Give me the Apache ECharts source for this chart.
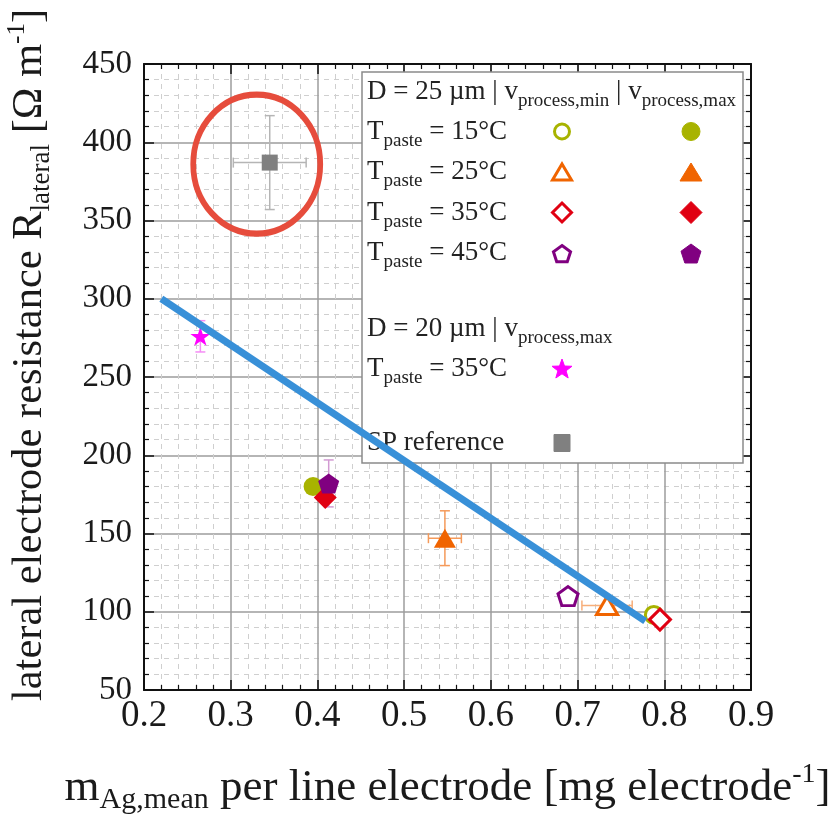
<!DOCTYPE html>
<html><head><meta charset="utf-8">
<script src="https://cdn.jsdelivr.net/npm/echarts@6/dist/echarts.min.js"></script>
<style>html,body{margin:0;padding:0;background:#fff}#c{width:833px;height:824px}</style>
</head><body><div id="c"></div>
<script>
// ---------- data ----------
const pointNames = ['T15 min','T15 max','T25 min','T25 max','T35 min','T35 max','T45 min','T45 max','D20 T35 max','SP reference'];
const xValues = [0.788, 0.395, 0.734, 0.547, 0.795, 0.409, 0.689, 0.413, 0.265, 0.345];
const yValues = [98, 180, 104, 147, 95, 173, 110, 182, 276, 387];
const xErrors = [0, 0, 0.029, 0.019, 0, 0, 0, 0, 0, 0.042];
const yErrors = [0, 0, 0, 17.5, 0, 0, 0, 15, 10, 30];
const trendX = [0.22, 0.778];
const trendY = [300, 94];
const highlightX = [0.33];
const highlightY = [386];
const xTickValues = [0.2, 0.3, 0.4, 0.5, 0.6, 0.7, 0.8, 0.9];
const yTickValues = [50, 100, 150, 200, 250, 300, 350, 400, 450];

// ---------- styles ----------
const FONT = "'Liberation Serif','Times New Roman',serif";
const TXT = '#1a1a1a';
const OLIVE = '#a8b300', ORANGE = '#f06400', RED = '#e00012', PURPLE = '#800080', MAGENTA = '#ff00ff', GRAY = '#808080';
const PENT = 'path://M50,0 L97.55,34.55 L79.39,90.45 L20.61,90.45 L2.45,34.55 Z';
const STAR = 'path://M50,0 L61.2,34.5 L97.6,34.5 L68.2,55.9 L79.4,90.5 L50,69.1 L20.6,90.5 L31.8,55.9 L2.4,34.5 L38.8,34.5 Z';
const symbols = ['circle','circle','triangle','triangle','diamond','diamond',PENT,PENT,STAR,'rect'];
const sizes = [[17,17],[19,19],[21,18],[22,19],[21,21],[23,23],[20,19],[21,20],[20,19],[16,16]];
const colors = [OLIVE,OLIVE,ORANGE,ORANGE,RED,RED,PURPLE,PURPLE,MAGENTA,GRAY];
const filled = [false,true,false,true,false,true,false,true,true,true];
const errColors = ['#d4da80','#d4da80','#f7ae7a','#f59a5a','#f08080','#f08080','#cf9acf','#d29ad2','#f58cf5','#b5b5b5'];

const X0 = xTickValues[0], X1 = xTickValues[xTickValues.length-1];
const Y0 = yTickValues[0], Y1 = yTickValues[yTickValues.length-1];

const chart = echarts.init(document.getElementById('c'), null, {renderer:'canvas'});

function axisCommon(showLabel){
  return {
    type:'value',
    axisLine:{show:true, onZero:false, lineStyle:{color:'#111', width:2}},
    axisTick:{show:true, inside:true, length:10, lineStyle:{color:'#111', width:1.5}},
    minorTick:{show:true, splitNumber:5, length:5, lineStyle:{color:'#111', width:1.2}},
    axisLabel:{show:showLabel, color:TXT, fontFamily:FONT},
  };
}

const series = [];
// error bars
series.push({
  type:'custom', z:1, silent:true,
  data: pointNames.map((n,i)=>[xValues[i], yValues[i], xErrors[i], yErrors[i], i]),
  renderItem(params, api){
    const x=api.value(0), y=api.value(1), ex=api.value(2), ey=api.value(3), i=api.value(4);
    const c = errColors[i], ch=[], cap=5, lw=1.5;
    const ln=(a,b,cc,dd)=>({type:'line', shape:{x1:a,y1:b,x2:cc,y2:dd}, style:{stroke:c, lineWidth:lw}});
    if (ey>0){
      const p1=api.coord([x,y+ey]), p2=api.coord([x,y-ey]);
      ch.push(ln(p1[0],p1[1],p2[0],p2[1]));
      ch.push(ln(p1[0]-cap,p1[1],p1[0]+cap,p1[1]));
      ch.push(ln(p2[0]-cap,p2[1],p2[0]+cap,p2[1]));
    }
    if (ex>0){
      const p1=api.coord([x-ex,y]), p2=api.coord([x+ex,y]);
      ch.push(ln(p1[0],p1[1],p2[0],p2[1]));
      ch.push(ln(p1[0],p1[1]-cap,p1[0],p1[1]+cap));
      ch.push(ln(p2[0],p2[1]-cap,p2[0],p2[1]+cap));
    }
    return {type:'group', children:ch};
  }
});
pointNames.forEach((n,i)=>{
  series.push({
    type:'scatter', name:n, z:3+i,
    data:[[xValues[i], yValues[i]]],
    symbol:symbols[i], symbolSize:sizes[i],
    itemStyle: filled[i] ? {color:colors[i], opacity:1} : {color:'#fff', borderColor:colors[i], borderWidth:3, opacity:1},
    emphasis:{disabled:true}
  });
});
// annotations
series.push({
  type:'line', z:30, silent:true,
  data: trendX.map((x,i)=>[x, trendY[i]]),
  symbol:'none', lineStyle:{color:'#3890d8', width:7, opacity:1}
});
series.push({
  type:'scatter', z:30, silent:true,
  data: highlightX.map((x,i)=>[x, highlightY[i]]),
  symbol:'circle', symbolSize:[127,139],
  itemStyle:{color:'rgba(0,0,0,0)', borderColor:'#e64c3c', borderWidth:6, opacity:1},
  emphasis:{disabled:true}
});

// ---------- custom legend (graphic) ----------
const legRich = {
  m:{fontSize:27, lineHeight:38, fontFamily:FONT, fill:'#222'},
  s:{fontSize:19, lineHeight:19, fontFamily:FONT, fill:'#222', verticalAlign:'bottom'}
};
function legText(txt, x, y){
  return {type:'text', x:x, y:y, z:20, style:{text:txt, rich:legRich, align:'left', verticalAlign:'middle', fill:'#222', fontFamily:FONT, fontSize:27}};
}
function legSym(kind, cx, cy, color, fill){
  const st = fill ? {fill:color, stroke:color, lineWidth:1} : {fill:'#fff', stroke:color, lineWidth:3};
  let el;
  if (kind==='circle') el = {type:'circle', shape:{cx:cx, cy:cy, r: fill?9:7.5}};
  else if (kind==='rect') el = {type:'rect', shape:{x:cx-8, y:cy-8.5, width:16, height:17}};
  else {
    let pts=[];
    if (kind==='triangle'){ const w=fill?22:19,h=fill?18:16; pts=[[cx,cy-h/2],[cx+w/2,cy+h/2],[cx-w/2,cy+h/2]]; }
    else if (kind==='diamond'){ const r=fill?11:9.5; pts=[[cx,cy-r],[cx+r,cy],[cx,cy+r],[cx-r,cy]]; }
    else if (kind==='pentagon'){ const r=fill?10.5:9; for(let k=0;k<5;k++){const a=(-90+72*k)*Math.PI/180; pts.push([cx+r*Math.cos(a), cy+1.5+r*Math.sin(a)]);} }
    else if (kind==='star'){ const R=10.5, r=4.3; for(let k=0;k<10;k++){const a=(-90+36*k)*Math.PI/180, rr=k%2?r:R; pts.push([cx+rr*Math.cos(a), cy+1+rr*Math.sin(a)]);} }
    el = {type:'polygon', shape:{points:pts}};
  }
  el.style = st; el.z = 20;
  return el;
}
const colMin = 562, colMax = 691, txtX = 367;
const rowY = [131.5, 172, 212.5, 253];
const rowLabels = ['15','25','35','45'];
const rowKinds = ['circle','triangle','diamond','pentagon'];
const rowColors = [OLIVE, ORANGE, RED, PURPLE];
const graphics = [
  {type:'rect', z:19, shape:{x:362, y:72, width:381, height:391}, style:{fill:'#fff', stroke:'#8a8a8a', lineWidth:1.5}},
  legText('{m|D = 25 µm | v}{s|process,min}{m| | v}{s|process,max}', txtX, 91.5)
];
rowY.forEach((y,i)=>{
  graphics.push(legText('{m|T}{s|paste}{m| = ' + rowLabels[i] + '°C}', txtX, y));
  graphics.push(legSym(rowKinds[i], colMin, y, rowColors[i], false));
  graphics.push(legSym(rowKinds[i], colMax, y, rowColors[i], true));
});
graphics.push(legText('{m|D = 20 µm | v}{s|process,max}', txtX, 328.5));
graphics.push(legText('{m|T}{s|paste}{m| = 35°C}', txtX, 368.5));
graphics.push(legSym('star', colMin, 368.5, MAGENTA, true));
graphics.push(legText('{m|SP reference}', txtX, 443));
graphics.push(legSym('rect', colMin, 443, GRAY, true));

const option = {
  backgroundColor:'#fff',
  animation:false,
  grid:{left:144, top:64, right:82, bottom:134, containLabel:false, outerBoundsMode:'none'},
  xAxis:[
    Object.assign(axisCommon(true), {
      position:'bottom', min:X0, max:X1, interval:0.1,
      axisLabel:{show:true, color:TXT, fontFamily:FONT, fontSize:37, margin:8, formatter:v=>v.toFixed(1)},
      splitLine:{show:true, lineStyle:{color:'#9d9d9d', width:1.5}},
      minorSplitLine:{show:true, lineStyle:{color:'#cfcfcf', width:1, type:[5,5]}},
      name:'{m|m}{s|Ag,mean}{m| per line electrode [mg electrode}{p|-1}{m|]}',
      nameLocation:'middle', nameGap:71,
      nameTextStyle:{fontFamily:FONT, color:TXT, rich:{
        m:{fontSize:45, lineHeight:54, fontFamily:FONT, color:TXT},
        s:{fontSize:30, lineHeight:30, fontFamily:FONT, color:TXT, verticalAlign:'bottom'},
        p:{fontSize:28, lineHeight:28, fontFamily:FONT, color:TXT, verticalAlign:'top'}
      }}
    }),
    Object.assign(axisCommon(false), {position:'top', min:X0, max:X1, interval:0.1, splitLine:{show:false}, minorSplitLine:{show:false}})
  ],
  yAxis:[
    Object.assign(axisCommon(true), {
      position:'left', min:Y0, max:Y1, interval:50,
      axisLabel:{show:true, color:TXT, fontFamily:FONT, fontSize:33, margin:12},
      splitLine:{show:true, lineStyle:{color:'#9d9d9d', width:1.5}},
      minorSplitLine:{show:true, lineStyle:{color:'#cfcfcf', width:1, type:[5,5]}},
      name:'{m|lateral electrode resistance R}{s|lateral}{m| [Ω m}{p|-1}{m|]}',
      nameLocation:'middle', nameGap:89, nameRotate:90,
      nameTextStyle:{fontFamily:FONT, color:TXT, padding:[0,0,0,44], rich:{
        m:{fontSize:42.5, lineHeight:50, fontFamily:FONT, color:TXT},
        s:{fontSize:27, lineHeight:27, fontFamily:FONT, color:TXT, verticalAlign:'bottom'},
        p:{fontSize:25, lineHeight:25, fontFamily:FONT, color:TXT, verticalAlign:'top'}
      }}
    }),
    Object.assign(axisCommon(false), {position:'right', min:Y0, max:Y1, interval:50, splitLine:{show:false}, minorSplitLine:{show:false}})
  ],
  graphic: graphics,
  series: series
};
chart.setOption(option);
</script>
</body></html>
